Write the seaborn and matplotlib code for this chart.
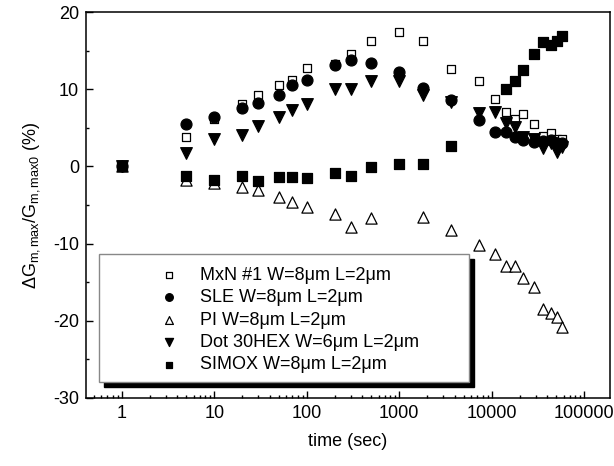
import matplotlib
matplotlib.use("Agg")
import matplotlib.pyplot as plt
import matplotlib.ticker as mticker
from matplotlib.patches import Rectangle
import seaborn as sns
import pandas as pd

sns.set_theme(style="white")
plt.rcParams['font.family'] = ['Liberation Sans', 'DejaVu Sans']
plt.rcParams['mathtext.fontset'] = 'custom'
plt.rcParams['mathtext.rm'] = 'Liberation Sans'
plt.rcParams['mathtext.it'] = 'Liberation Sans:italic'
plt.rcParams['axes.unicode_minus'] = False

# ---- data ----
t_all = [1, 5, 10, 20, 30, 50, 70, 100, 200, 300, 500, 1000, 1800, 3600,
         7200, 10800, 14400, 18000, 21600, 28800, 36000, 43200, 50400, 57600]

mxn_t = t_all
mxn_v = [0, 3.85, 6.1, 8.1, 9.3, 10.5, 11.2, 12.8, 13.3, 14.6, 16.2, 17.4, 16.2, 12.6,
         11.05, 8.8, 7.0, 6.2, 6.75, 5.5, 3.9, 4.4, 3.6, 3.5]

sle_t = t_all
sle_v = [0, 5.5, 6.36, 7.55, 8.25, 9.25, 10.5, 11.2, 13.1, 13.8, 13.4, 12.3, 10.2, 8.6,
         6.0, 4.5, 4.5, 3.85, 3.4, 3.2, 3.3, 3.4, 3.0, 3.1]

pi_t = [1, 5, 10, 20, 30, 50, 70, 100, 200, 300, 500, 1800, 3600,
        7200, 10800, 14400, 18000, 21600, 28800, 36000, 43200, 50400, 57600]
pi_v = [0, -1.8, -2.1, -2.6, -3.1, -3.9, -4.6, -5.2, -6.2, -7.9, -6.7, -6.6, -8.2,
        -10.2, -11.35, -12.9, -12.9, -14.4, -15.6, -18.5, -18.95, -19.5, -20.85]

dot_t = t_all
dot_v = [0, 1.8, 3.5, 4.1, 5.2, 6.35, 7.3, 8.1, 10.0, 10.1, 11.05, 11.05, 9.3, 8.4,
         6.9, 7.1, 5.6, 5.05, 3.85, 3.6, 2.35, 3.0, 1.9, 2.55]

simox_t = [1, 5, 10, 20, 30, 50, 70, 100, 200, 300, 500, 1000, 1800, 3600,
           14400, 18000, 21600, 28800, 36000, 43200, 50400, 57600]
simox_v = [0, -1.3, -1.7, -1.3, -1.85, -1.4, -1.4, -1.45, -0.9, -1.2, -0.1, 0.3, 0.3, 2.6,
           10.0, 11.1, 12.5, 14.6, 16.1, 15.8, 16.2, 16.9]

labels = ["MxN #1 W=8μm L=2μm", "SLE W=8μm L=2μm", "PI W=8μm L=2μm",
          "Dot 30HEX W=6μm L=2μm", "SIMOX W=8μm L=2μm"]

xticks = [1, 10, 100, 1000, 10000, 100000]
xticklabels = ["1", "10", "100", "1000", "10000", "100000"]
yticks = [-30, -20, -10, 0, 10, 20]

series = [
    (mxn_t, mxn_v, 's', 'white', 40),
    (sle_t, sle_v, 'o', 'black', 62),
    (pi_t, pi_v, '^', 'white', 65),
    (dot_t, dot_v, 'v', 'black', 70),
    (simox_t, simox_v, 's', 'black', 42),
]

fig = plt.figure(figsize=(6.14, 4.66), dpi=100)
ax = fig.add_axes([0.140, 0.146, 0.8535, 0.828])

for (tt, vv, mk, fc, sz), lab in zip(series, labels):
    df = pd.DataFrame({"t": tt, "v": vv})
    sns.scatterplot(data=df, x="t", y="v", marker=mk, s=sz, facecolor=fc,
                    edgecolor='black', linewidth=0.9, label=lab, ax=ax, zorder=3)

ax.set_xscale('log')
ax.set_xlim(0.41, 1.9e5)
ax.set_ylim(-30, 20)
ax.set_xticks(xticks)
ax.set_xticklabels(xticklabels)
ax.xaxis.set_minor_locator(mticker.LogLocator(base=10, subs=range(2, 10), numticks=20))
ax.xaxis.set_minor_formatter(mticker.NullFormatter())
ax.set_yticks(yticks)
ax.yaxis.set_minor_locator(mticker.MultipleLocator(5))

ax.tick_params(which='major', direction='in', length=5, width=1, labelsize=13,
               color='black', labelcolor='black', pad=5, bottom=True, left=True)
ax.tick_params(which='minor', direction='in', length=2.5, width=1, color='black',
               bottom=True, left=True)
for sp in ax.spines.values():
    sp.set_color('black')
    sp.set_linewidth(1.1)

ax.set_xlabel("time (sec)", fontsize=13, color='black', labelpad=8)
ax.set_ylabel(r"ΔG$_{\mathrm{m,max}}$/G$_{\mathrm{m,max0}}$ (%)", fontsize=13,
              color='black', labelpad=8)

leg = ax.legend(loc='center', bbox_to_anchor=(0.383, 0.202), frameon=False,
                fontsize=13, markerscale=0.7, handletextpad=0.9, labelspacing=0.3,
                borderpad=0.2, handlelength=1.6)
for txt in leg.get_texts():
    txt.set_color('black')
leg.set_zorder(10)

# Origin-style legend frame with solid black drop shadow
x0, y0 = (99 - 86) / 524, (398 - 382) / 386
w, h = (469 - 99) / 524, (382 - 254) / 386
dx, dy = 5 / 524, 5 / 386
ax.add_patch(Rectangle((x0 + dx, y0 - dy), w, h, transform=ax.transAxes,
                       facecolor='black', edgecolor='black', zorder=8))
ax.add_patch(Rectangle((x0, y0), w, h, transform=ax.transAxes,
                       facecolor='white', edgecolor='#888888', linewidth=1, zorder=9))

fig.savefig("out.png", dpi=100)
